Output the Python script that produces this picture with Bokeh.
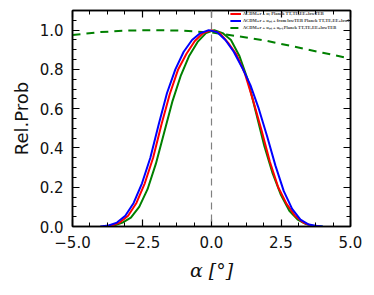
from bokeh.plotting import figure
from bokeh.models import (LinearAxis, SingleIntervalTicker, CustomJSTickFormatter,
                          Span, Legend, LegendItem, Range1d)
from bokeh.embed import file_html
from bokeh.resources import INLINE

# ---- data ----
red_alpha = [-3.9, -3.6, -3.3, -3.0, -2.7, -2.4, -2.1, -1.8, -1.5, -1.2, -0.9, -0.6, -0.3, 0.0,
             0.3, 0.6, 0.9, 1.2, 1.5, 1.8, 2.1, 2.4, 2.7, 3.0, 3.3, 3.6, 3.9]
red_prob = [0.0, 0.005, 0.02, 0.055, 0.12, 0.22, 0.35, 0.52, 0.675, 0.8, 0.88, 0.945, 0.985, 1.0,
            0.985, 0.935, 0.875, 0.78, 0.64, 0.49, 0.33, 0.2, 0.115, 0.055, 0.02, 0.004, 0.0]

blue_alpha = [-4.0, -3.7, -3.4, -3.1, -2.8, -2.5, -2.2, -1.9, -1.6, -1.3, -1.0, -0.7, -0.4, -0.1,
              0.2, 0.5, 0.8, 1.1, 1.4, 1.7, 2.0, 2.3, 2.6, 2.9, 3.2, 3.5, 3.8, 4.0]
blue_prob = [0.0, 0.005, 0.02, 0.055, 0.12, 0.22, 0.35, 0.52, 0.68, 0.8, 0.89, 0.95, 0.985, 1.0,
             0.99, 0.95, 0.89, 0.81, 0.72, 0.6, 0.46, 0.31, 0.18, 0.09, 0.035, 0.01, 0.002, 0.0]

green_alpha = [-3.8, -3.5, -3.2, -2.9, -2.6, -2.3, -2.0, -1.7, -1.4, -1.1, -0.8, -0.5, -0.2, 0.1,
               0.4, 0.7, 1.0, 1.3, 1.6, 1.9, 2.2, 2.5, 2.8, 3.1, 3.4, 3.7, 4.0]
green_prob = [0.0, 0.005, 0.02, 0.045, 0.1, 0.19, 0.32, 0.48, 0.64, 0.77, 0.87, 0.94, 0.985, 1.0,
              0.985, 0.95, 0.87, 0.75, 0.58, 0.41, 0.27, 0.16, 0.08, 0.035, 0.012, 0.002, 0.0]

dashed_alpha = [-5.0, -4.0, -3.0, -2.0, -1.0, 0.0, 1.0, 2.0, 3.0, 4.0, 5.0]
dashed_prob = [0.975, 0.99, 0.998, 1.0, 0.997, 0.988, 0.968, 0.945, 0.915, 0.885, 0.855]

ref_alpha = 0.0

labels = [
    "\u039bCDM+r + \u03b1; Planck TT,TE,EE+lowTEB",
    "\u039bCDM+r + \u03b1\u209b\u2090\u209c + from lowTEB Planck TT,TE,EE+lowl",
    "\u039bCDM+r + \u03b1\u209b\u2090\u209c + \u03b1\u209b\u2090\u209c Planck TT,TE,EE+lowTEB",
]

x_ticks_interval = 2.5
y_ticks_interval = 0.2

p = figure(width=366, height=287, output_backend="svg", toolbar_location=None,
           x_range=Range1d(-5, 5), y_range=Range1d(0, 1.1),
           min_border_left=72, min_border_right=16, min_border_top=10, min_border_bottom=61,
           x_axis_location=None, y_axis_location=None)
p.xgrid.visible = False
p.ygrid.visible = False
p.outline_line_color = "black"
p.outline_line_width = 1.5
p.background_fill_color = "white"
p.border_fill_color = "white"

fmt = CustomJSTickFormatter(code="return (tick < -1e-9 ? '\\u2212' : '') + Math.abs(tick).toFixed(1);")
blank_fmt = CustomJSTickFormatter(code="return '';")


def make_axis(kind, show_labels):
    if kind == "x":
        t = SingleIntervalTicker(interval=x_ticks_interval, num_minor_ticks=4)
    else:
        t = SingleIntervalTicker(interval=y_ticks_interval, num_minor_ticks=4)
    ax = LinearAxis(ticker=t, formatter=fmt if show_labels else blank_fmt)
    ax.major_tick_in = 7
    ax.major_tick_out = 0
    ax.minor_tick_in = 4
    ax.minor_tick_out = 0
    ax.axis_line_width = 1.5
    ax.major_tick_line_width = 1.2
    ax.minor_tick_line_width = 1
    ax.axis_line_color = "black"
    if show_labels:
        ax.major_label_text_font = "DejaVu Sans"
        ax.major_label_text_font_size = "15px"
        ax.major_label_text_color = "#111111"
        ax.major_label_standoff = 9
    else:
        ax.major_label_standoff = 0
    return ax


xb = make_axis("x", True)
xb.axis_label = "\u03b1 [\u00b0]"
xb.axis_label_text_font = "DejaVu Serif"
xb.axis_label_text_font_style = "italic"
xb.axis_label_text_font_size = "19px"
xb.axis_label_text_color = "#111111"
xb.axis_label_standoff = 8
p.add_layout(xb, "below")

yl = make_axis("y", True)
yl.axis_label = "Rel.Prob"
yl.axis_label_text_font = "DejaVu Sans"
yl.axis_label_text_font_style = "normal"
yl.axis_label_text_font_size = "18px"
yl.axis_label_text_color = "#111111"
yl.axis_label_standoff = 5
p.add_layout(yl, "left")

p.add_layout(make_axis("x", False), "above")
p.add_layout(make_axis("y", False), "right")

p.add_layout(Span(location=ref_alpha, dimension="height", line_color="gray",
                  line_dash="7 5", line_width=1.2))

r_dash = p.line(dashed_alpha, dashed_prob, line_color="green", line_width=2, line_dash="8 6")
r_green = p.line(green_alpha, green_prob, line_color="green", line_width=2)
r_red = p.line(red_alpha, red_prob, line_color="red", line_width=2)
r_blue = p.line(blue_alpha, blue_prob, line_color="blue", line_width=2)

legend = Legend(items=[LegendItem(label=labels[0], renderers=[r_red]),
                       LegendItem(label=labels[1], renderers=[r_blue]),
                       LegendItem(label=labels[2], renderers=[r_dash])],
                location="top_right")
legend.label_text_font = "Liberation Serif"
legend.label_text_font_style = "bold"
legend.label_text_font_size = "4.5px"
legend.label_height = 5
legend.glyph_height = 5
legend.glyph_width = 11
legend.label_standoff = 2
legend.spacing = 1
legend.padding = 2
legend.margin = 1
legend.border_line_color = None
legend.background_fill_alpha = 0
p.add_layout(legend)

open("out.html", "w").write(file_html(p, INLINE))
